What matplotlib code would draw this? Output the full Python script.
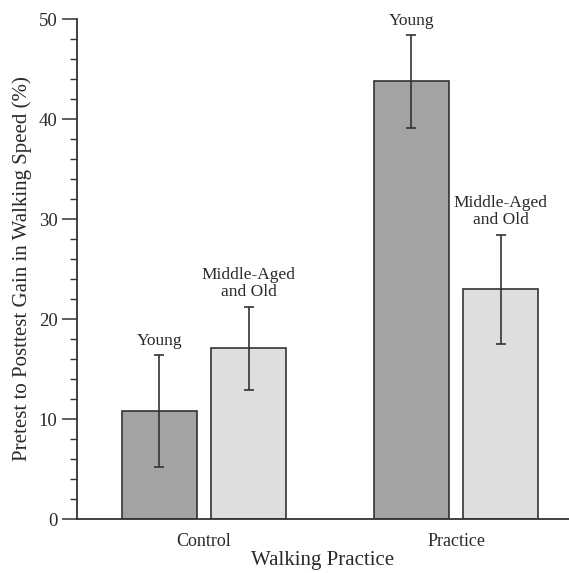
import matplotlib.pyplot as plt
import numpy as np

plt.rcParams['font.family'] = ['Liberation Serif', 'DejaVu Serif']

groups = ["Control", "Practice"]
age_labels = ["Young", "Middle-Aged\nand Old"]
# mean gain (%) per group, per age
young_mean = [10.8, 43.8]
old_mean = [17.1, 23.0]
# error bar ends
young_low = [5.2, 39.1]
young_high = [16.4, 48.4]
old_low = [12.9, 17.5]
old_high = [21.2, 28.4]

x = np.arange(len(groups))
w = 0.298
off = 0.177

fig = plt.figure(figsize=(5.69, 5.73), dpi=100)
ax = fig.add_axes([0.1353, 0.0942, 0.8647, 0.8726])

yerr_y = [np.array(young_mean) - np.array(young_low), np.array(young_high) - np.array(young_mean)]
yerr_o = [np.array(old_mean) - np.array(old_low), np.array(old_high) - np.array(old_mean)]

ax.bar(x - off, young_mean, w, color="#a3a3a3", edgecolor="#333333", linewidth=1.2,
       yerr=yerr_y, error_kw=dict(ecolor="#333333", elinewidth=1.2, capsize=3.5, capthick=1.2))
ax.bar(x + off, old_mean, w, color="#dedede", edgecolor="#333333", linewidth=1.2,
       yerr=yerr_o, error_kw=dict(ecolor="#333333", elinewidth=1.2, capsize=3.5, capthick=1.2))

for i in range(len(groups)):
    ax.text(x[i] - off, young_high[i] + 0.6, age_labels[0], ha="center", va="bottom",
            fontsize=12.5, color="#2a2a2a")
    ax.text(x[i] + off, old_high[i] + 0.7, age_labels[1], ha="center", va="bottom",
            fontsize=12.5, color="#2a2a2a", linespacing=1.05)

ax.set_xlim(-0.504, 1.448)
ax.set_ylim(0, 50)
ax.set_xticks(x)
ax.set_xticklabels(groups, fontsize=13, color="#2a2a2a")
ax.tick_params(axis="x", length=0, pad=10)
ax.set_yticks(np.arange(0, 51, 10))
ax.set_yticks(np.arange(0, 51, 2), minor=True)
ax.tick_params(axis="y", which="major", length=11, width=1.1, labelsize=13.5, colors="#333333",
               labelcolor="#2a2a2a", pad=3)
ax.tick_params(axis="y", which="minor", length=5, width=1.0, colors="#333333")

for s in ["top", "right"]:
    ax.spines[s].set_visible(False)
for s in ["left", "bottom"]:
    ax.spines[s].set_linewidth(1.3)
    ax.spines[s].set_color("#333333")

ax.set_ylabel("Pretest to Posttest Gain in Walking Speed (%)", fontsize=15, color="#2a2a2a", labelpad=5)
ax.set_xlabel("Walking Practice", fontsize=15, color="#2a2a2a", labelpad=1)

fig.savefig("out.png", dpi=100)
